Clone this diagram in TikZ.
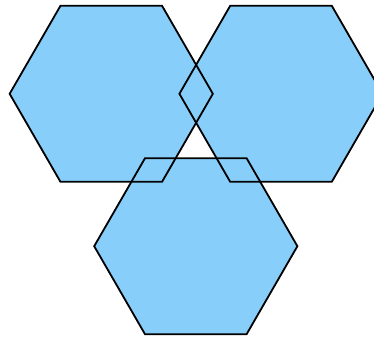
\documentclass[tikz,border=0pt]{standalone}
\definecolor{skyfill}{RGB}{135,206,250}
\begin{document}
\begin{tikzpicture}[x=1pt,y=-1pt,
  hexfill/.style={fill=skyfill},
  hexline/.style={draw=black,line width=1.8pt,line join=miter}]
\useasboundingbox (0,0) rectangle (374,339);
\clip (0,0) rectangle (374,339);
\newcommand{\hexpath}[2]{(#1+101.6,#2) -- (#1+50.8,#2+88) -- (#1-50.8,#2+88) -- (#1-101.6,#2) -- (#1-50.8,#2-88) -- (#1+50.8,#2-88) -- cycle}
\foreach \cx/\cy in {111.25/93.8, 281/93.8, 195.8/246.2}
  \path[hexfill] \hexpath{\cx}{\cy};
\foreach \cx/\cy in {111.25/93.8, 281/93.8, 195.8/246.2}
  \path[hexline] \hexpath{\cx}{\cy};
\end{tikzpicture}
\end{document}
